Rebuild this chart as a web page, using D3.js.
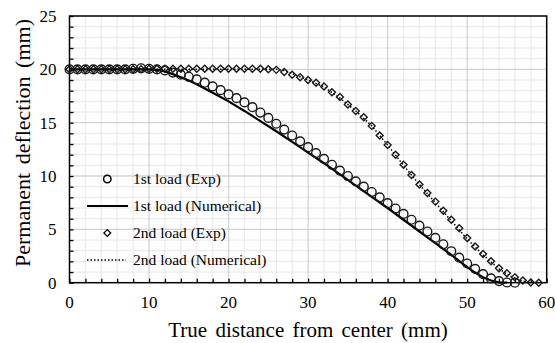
<!DOCTYPE html>
<html>
<head>
<meta charset="utf-8">
<script src="https://d3js.org/d3.v7.min.js"></script>
<style>
  body { margin: 0; background: #fff; }
  text { font-family: "Liberation Serif", "Times New Roman", serif; fill: #000; }
</style>
</head>
<body>
<div id="chart"></div>
<script>
// data
var exp1X = d3.range(0, 57);
var exp1Y = [20, 20, 20, 20, 20, 20, 20, 20, 20.05, 20.1, 20.05, 20.0, 19.9, 19.7, 19.5, 19.3, 19.05, 18.75, 18.4, 18.05,
             17.65, 17.3, 16.9, 16.45, 15.95, 15.45, 14.9, 14.35, 13.8, 13.25, 12.7, 12.15, 11.6, 11.05, 10.5, 10.0, 9.5, 9.0, 8.5, 8.0,
             7.45, 6.95, 6.45, 5.9, 5.35, 4.8, 4.2, 3.6, 2.95, 2.35, 1.8, 1.3, 0.8, 0.4, 0.15, 0.02, 0];

var num1X = [0, 10, 11, 12, 13, 14, 15, 16, 17, 18, 19, 20, 22, 24, 26, 28, 30, 32, 34, 36, 38, 40, 42, 44, 46, 48, 50, 51, 52, 53, 54, 55];
var num1Y = [20, 20, 19.95, 19.8, 19.55, 19.25, 18.95, 18.6, 18.2, 17.8, 17.4, 17.0, 16.1, 15.15, 14.2, 13.2, 12.2, 11.2, 10.15, 9.1, 8.05, 7.0, 5.9, 4.8, 3.7, 2.6, 1.45, 0.95, 0.5, 0.2, 0.03, 0];

var exp2X = d3.range(0, 60);
var exp2Y = [20, 20, 20, 20, 20, 20, 20, 20, 20, 20, 20.05, 20.05, 20.05, 20.05, 20.05, 20.05, 20.05, 20.05, 20.05, 20.05,
             20.05, 20.05, 20.05, 20.05, 20.05, 20.0, 19.95, 19.75, 19.5, 19.25, 19.0, 18.75, 18.4, 17.85, 17.4, 16.7, 16.1, 15.5, 14.7, 13.8,
             12.9, 12.0, 11.05, 10.1, 9.2, 8.4, 7.6, 6.75, 5.9, 5.1, 4.2, 3.4, 2.7, 2.0, 1.35, 0.88, 0.5, 0.2, 0.02, 0];

var num2X = [0, 26, 27, 28, 30, 32, 34, 36, 38, 40, 42, 44, 46, 48, 50, 52, 54, 55, 56, 57, 58];
var num2Y = [20, 20, 19.9, 19.6, 19.0, 18.35, 17.3, 16.1, 14.7, 12.9, 11.0, 9.2, 7.5, 5.8, 4.1, 2.6, 1.3, 0.8, 0.4, 0.15, 0];

var xTicks = [0, 10, 20, 30, 40, 50, 60];
var yTicks = [0, 5, 10, 15, 20, 25];
var legendLabels = ["1st load (Exp)", "1st load (Numerical)", "2nd load (Exp)", "2nd load (Numerical)"];

var W = 555, H = 343;
var margin = {top: 16, right: 8, bottom: 60, left: 69.5};
var width = 546.7 - margin.left, height = 282.7 - margin.top;

var svg = d3.select("#chart").append("svg")
    .attr("width", W).attr("height", H);
var g = svg.append("g")
    .attr("transform", "translate(" + margin.left + "," + margin.top + ")");

var x = d3.scaleLinear().domain([0, 60]).range([0, width]);
var y = d3.scaleLinear().domain([0, 25]).range([height, 0]);

// minor grid
g.append("g").selectAll("line").data(d3.range(2, 60, 2).filter(function(d){ return d % 10 != 0; }))
  .enter().append("line")
    .attr("x1", function(d){ return x(d); }).attr("x2", function(d){ return x(d); })
    .attr("y1", 0).attr("y2", height)
    .attr("stroke", "#ebebeb").attr("stroke-width", 1.3);
g.append("g").selectAll("line").data(d3.range(1, 25).filter(function(d){ return d % 5 != 0; }))
  .enter().append("line")
    .attr("y1", function(d){ return y(d); }).attr("y2", function(d){ return y(d); })
    .attr("x1", 0).attr("x2", width)
    .attr("stroke", "#ebebeb").attr("stroke-width", 1.3);
// major grid
g.append("g").selectAll("line").data([10, 20, 30, 40, 50])
  .enter().append("line")
    .attr("x1", function(d){ return x(d); }).attr("x2", function(d){ return x(d); })
    .attr("y1", 0).attr("y2", height)
    .attr("stroke", "#d4d4d4").attr("stroke-width", 1.3);
g.append("g").selectAll("line").data([5, 10, 15, 20])
  .enter().append("line")
    .attr("y1", function(d){ return y(d); }).attr("y2", function(d){ return y(d); })
    .attr("x1", 0).attr("x2", width)
    .attr("stroke", "#d4d4d4").attr("stroke-width", 1.3);

// frame
g.append("rect").attr("x", 0).attr("y", 0).attr("width", width).attr("height", height)
  .attr("fill", "none").attr("stroke", "#000").attr("stroke-width", 1.5);

// axes with inward minor ticks
var xAxis = g.append("g").attr("transform", "translate(0," + height + ")")
  .call(d3.axisBottom(x).tickValues(d3.range(0, 61, 2)).tickSize(-4).tickFormat(""));
xAxis.select(".domain").remove();
xAxis.selectAll(".tick line").attr("stroke", "#000").attr("stroke-width", 1.3);

var yAxis = g.append("g")
  .call(d3.axisLeft(y).tickValues(d3.range(0, 26, 1)).tickSize(-4).tickFormat(""));
yAxis.select(".domain").remove();
yAxis.selectAll(".tick line").attr("stroke", "#000").attr("stroke-width", 1.3);

// tick labels
g.append("g").selectAll("text").data(xTicks).enter().append("text")
  .attr("x", function(d){ return x(d); }).attr("y", height + 25)
  .attr("text-anchor", "middle").style("font-size", "17px")
  .text(function(d){ return d; });
g.append("g").selectAll("text").data(yTicks).enter().append("text")
  .attr("x", -13).attr("y", function(d){ return y(d) + 6; })
  .attr("text-anchor", "end").style("font-size", "17px")
  .text(function(d){ return d; });

// axis titles
svg.append("text").attr("x", 308).attr("y", 337)
  .attr("text-anchor", "middle").style("font-size", "21px").style("word-spacing", "3px")
  .text("True distance from center (mm)");
svg.append("text")
  .attr("transform", "translate(30,143) rotate(-90)")
  .attr("text-anchor", "middle").style("font-size", "22px").style("word-spacing", "3px")
  .text("Permanent deflection (mm)");

var line = d3.line().x(function(d){ return x(d[0]); }).y(function(d){ return y(d[1]); });
var diamond = function(s) { return "M0," + (-s) + "L" + s + ",0L0," + s + "L" + (-s) + ",0Z"; };

// 2nd numerical (dotted)
g.append("path").datum(d3.zip(num2X, num2Y)).attr("d", line)
  .attr("fill", "none").attr("stroke", "#000").attr("stroke-width", 1.5)
  .attr("stroke-dasharray", "1.5,2");
// 2nd exp diamonds
g.append("g").selectAll("path").data(d3.zip(exp2X, exp2Y)).enter().append("path")
  .attr("transform", function(d){ return "translate(" + x(d[0]) + "," + y(d[1]) + ")"; })
  .attr("d", diamond(3.5))
  .attr("fill", "none").attr("stroke", "#1a1a1a").attr("stroke-width", 1.4);
// 1st numerical (solid)
g.append("path").datum(d3.zip(num1X, num1Y)).attr("d", line)
  .attr("fill", "none").attr("stroke", "#000").attr("stroke-width", 2.2);
// 1st exp circles
g.append("g").selectAll("circle").data(d3.zip(exp1X, exp1Y)).enter().append("circle")
  .attr("cx", function(d){ return x(d[0]); }).attr("cy", function(d){ return y(d[1]); })
  .attr("r", 4.4)
  .attr("fill", "none").attr("stroke", "#1a1a1a").attr("stroke-width", 1.4);

// legend
var ly = [179, 206, 233, 260];
svg.append("circle").attr("cx", 107.3).attr("cy", ly[0]).attr("r", 3.7)
  .attr("fill", "none").attr("stroke", "#000").attr("stroke-width", 1.5);
svg.append("line").attr("x1", 87).attr("x2", 128).attr("y1", ly[1]).attr("y2", ly[1])
  .attr("stroke", "#000").attr("stroke-width", 2.2);
svg.append("path").attr("transform", "translate(107.3," + ly[2] + ")").attr("d", diamond(3.4))
  .attr("fill", "none").attr("stroke", "#000").attr("stroke-width", 1.3);
svg.append("line").attr("x1", 87).attr("x2", 126).attr("y1", ly[3]).attr("y2", ly[3])
  .attr("stroke", "#000").attr("stroke-width", 1.5).attr("stroke-dasharray", "1.5,2");
svg.append("g").selectAll("text").data(legendLabels).enter().append("text")
  .attr("x", 133).attr("y", function(d, i){ return ly[i] + 5; })
  .style("font-size", "15.5px")
  .text(function(d){ return d; });
</script>
</body>
</html>
